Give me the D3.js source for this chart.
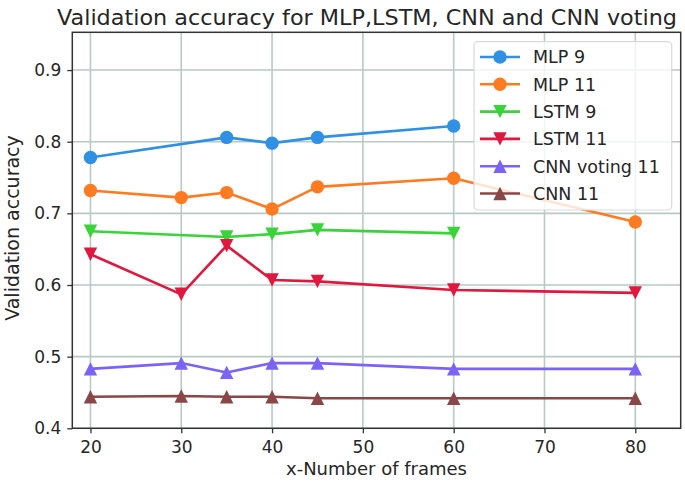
<!DOCTYPE html>
<html><head><meta charset="utf-8">
<script src="https://cdn.jsdelivr.net/npm/d3@7"></script>
<style>body{margin:0;background:#fff}svg{display:block}text{font-family:"DejaVu Sans",sans-serif;fill:#262626}</style>
</head><body><svg id="c" width="685" height="485"></svg>
<script>
const title = "Validation accuracy for MLP,LSTM, CNN and CNN voting";
const xLabel = "x-Number of frames";
const yLabel = "Validation accuracy";
const xTicks = [20,30,40,50,60,70,80];
const yTicks = [0.4,0.5,0.6,0.7,0.8,0.9];
const seriesNames = ["MLP 9","MLP 11","LSTM 9","LSTM 11","CNN voting 11","CNN 11"];
const seriesColors = ["#2f90e4","#ff7b21","#3ad33a","#e0173e","#7a63f5","#8a4747"];
const seriesMarkers = ["circle","circle","down","down","up","up"];
const xShort = [20,35,40,45,60];
const xLong = [20,30,35,40,45,60,80];
const mlp9 = [0.778,0.806,0.798,0.806,0.822];
const mlp11 = [0.732,0.722,0.729,0.706,0.737,0.749,0.688];
const lstm9 = [0.675,0.667,0.671,0.677,0.672];
const lstm11 = [0.643,0.587,0.655,0.607,0.605,0.593,0.589];
const cnnVoting11 = [0.483,0.491,0.478,0.491,0.491,0.483,0.483];
const cnn11 = [0.444,0.445,0.444,0.444,0.442,0.442,0.442];

const series = [
  {x:xShort, y:mlp9},{x:xLong, y:mlp11},{x:xShort, y:lstm9},
  {x:xLong, y:lstm11},{x:xLong, y:cnnVoting11},{x:xLong, y:cnn11}
].map((s,i)=>({name:seriesNames[i],color:seriesColors[i],marker:seriesMarkers[i],
  pts:s.x.map((xv,j)=>({x:xv,y:s.y[j]}))}));

const svg = d3.select("#c");
const L=72.3,R=680.7,T=32.3,B=428.3;
const x = d3.scaleLinear().domain([18,85]).range([L,R]);
const y = d3.scaleLinear().domain([0.4,0.9527]).range([B,T]);

// grid
const grid = svg.append("g");
grid.selectAll("line.gx").data(xTicks).join("line")
  .attr("x1",d=>x(d)).attr("x2",d=>x(d)).attr("y1",T).attr("y2",B)
  .attr("stroke","#b9c9c5").attr("stroke-width",1.6);
grid.selectAll("line.gy").data(yTicks).join("line")
  .attr("x1",L).attr("x2",R).attr("y1",d=>y(d)).attr("y2",d=>y(d))
  .attr("stroke","#b9c9c5").attr("stroke-width",1.6);

// axes
const xAxis = svg.append("g").attr("transform",`translate(0,${B})`)
  .call(d3.axisBottom(x).tickValues(xTicks).tickSize(5).tickPadding(7).tickFormat(d3.format("d")));
const yAxis = svg.append("g").attr("transform",`translate(${L},0)`)
  .call(d3.axisLeft(y).tickValues(yTicks).tickSize(5).tickPadding(6).tickFormat(d3.format(".1f")));
[xAxis,yAxis].forEach(a=>{
  a.select(".domain").remove();
  a.selectAll(".tick line").attr("stroke","#333").attr("stroke-width",1.3);
  a.selectAll(".tick text").attr("font-size",17).attr("fill","#262626")
   .style("font-family","DejaVu Sans, sans-serif");
});
xAxis.selectAll(".tick text").attr("dy","0.75em");

// lines & markers
const line = d3.line().x(d=>x(d.x)).y(d=>y(d.y));
function markerPath(type,s){
  if(type==="down") return `M${-s},${-s}L${s},${-s}L0,${s}Z`;
  if(type==="up") return `M${-s},${s}L${s},${s}L0,${-s}Z`;
  return null;
}
const plot = svg.append("g");
series.forEach(s=>{
  plot.append("path").attr("d",line(s.pts)).attr("fill","none")
    .attr("stroke",s.color).attr("stroke-width",2.6).attr("stroke-linejoin","round");
  const g = plot.append("g");
  s.pts.forEach(p=>{
    if(s.marker==="circle"){
      g.append("circle").attr("cx",x(p.x)).attr("cy",y(p.y)).attr("r",6.7).attr("fill",s.color);
    } else {
      g.append("path").attr("transform",`translate(${x(p.x)},${y(p.y)})`)
        .attr("d",markerPath(s.marker,6.7)).attr("fill",s.color);
    }
  });
});

// spines
svg.append("rect").attr("x",L).attr("y",T).attr("width",R-L).attr("height",B-T)
  .attr("fill","none").attr("stroke","#333").attr("stroke-width",1.5);

// legend
const lg = svg.append("g");
lg.append("rect").attr("x",474).attr("y",41.7).attr("width",197.7).attr("height",168.3)
  .attr("rx",4).attr("fill","#fff").attr("fill-opacity",0.8).attr("stroke","#d9d9d9").attr("stroke-width",1.2);
series.forEach((s,i)=>{
  const cy = 57 + i*27.3;
  lg.append("line").attr("x1",480).attr("x2",520).attr("y1",cy).attr("y2",cy)
    .attr("stroke",s.color).attr("stroke-width",2.6);
  if(s.marker==="circle") lg.append("circle").attr("cx",500).attr("cy",cy).attr("r",6.7).attr("fill",s.color);
  else lg.append("path").attr("transform",`translate(500,${cy})`).attr("d",markerPath(s.marker,6.7)).attr("fill",s.color);
  lg.append("text").attr("x",533).attr("y",cy).attr("dy","0.36em").attr("font-size",17.5).text(s.name);
});

// titles
svg.append("text").attr("x",367).attr("y",25).attr("text-anchor","middle")
  .attr("font-size",21.5).attr("textLength",620).attr("lengthAdjust","spacingAndGlyphs").text(title);
svg.append("text").attr("x",376.5).attr("y",475).attr("text-anchor","middle")
  .attr("font-size",18).text(xLabel);
svg.append("text").attr("transform","translate(19,228) rotate(-90)").attr("text-anchor","middle")
  .attr("font-size",19).text(yLabel);
</script></body></html>
